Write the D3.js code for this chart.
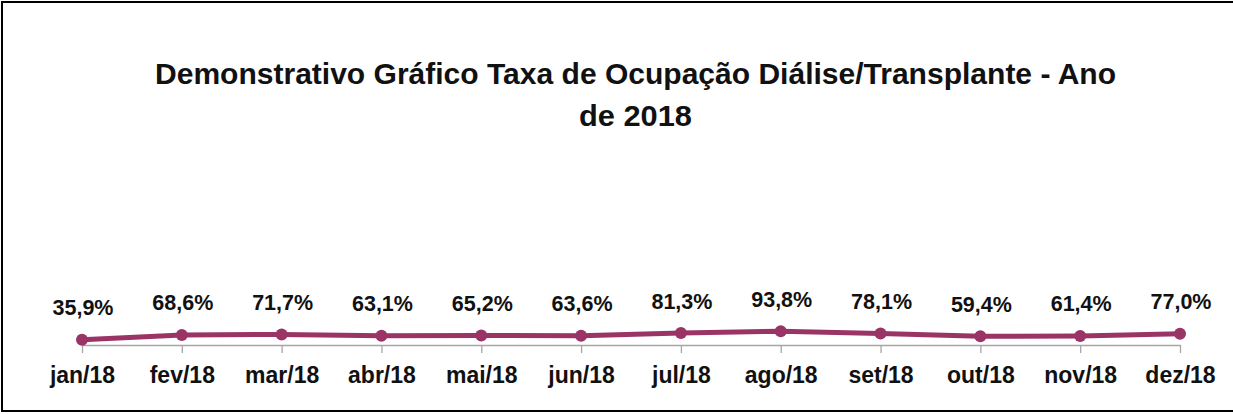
<!DOCTYPE html>
<html>
<head>
<meta charset="utf-8">
<script src="https://cdn.jsdelivr.net/npm/d3@7"></script>
<style>
  html, body { margin: 0; padding: 0; background: #fff; }
  svg { display: block; }
  text { font-family: "Liberation Sans", Arial, sans-serif; font-weight: bold; fill: #111; }
</style>
</head>
<body>
<svg id="chart" width="1233" height="414"></svg>
<script>
// Monthly occupancy rate (%), dialysis / transplant, 2018
const months = ["jan/18", "fev/18", "mar/18", "abr/18", "mai/18", "jun/18",
                "jul/18", "ago/18", "set/18", "out/18", "nov/18", "dez/18"];
const rates = [35.9, 68.6, 71.7, 63.1, 65.2, 63.6, 81.3, 93.8, 78.1, 59.4, 61.4, 77.0];
const titleLines = ["Demonstrativo Gráfico Taxa de Ocupação Diálise/Transplante - Ano", "de 2018"];

const W = 1233, H = 414;
const svg = d3.select("#chart");
const lineColor = "#9a3467";

// Outer frame
svg.append("rect")
  .attr("x", 2).attr("y", 2)
  .attr("width", W + 10).attr("height", 409)
  .attr("fill", "none").attr("stroke", "#000").attr("stroke-width", 2);

// Title, two centred lines
const titleY = [84, 126];
const titleWidth = [961, 113];
titleLines.forEach((t, i) => {
  svg.append("text")
    .attr("x", 635.5).attr("y", titleY[i])
    .attr("text-anchor", "middle")
    .style("font-size", "30px")
    .attr("textLength", titleWidth[i])
    .attr("lengthAdjust", "spacingAndGlyphs")
    .text(t);
});

// Scales
const x = d3.scalePoint().domain(months).range([82, 1180]);
const y = d3.scaleLinear().domain([0, 100]).range([345, 330.3]);

// Category axis
const axis = svg.append("g")
  .attr("transform", `translate(0,${y(0)})`)
  .call(d3.axisBottom(x).tickSize(8).tickPadding(14).tickSizeOuter(0));
axis.select(".domain").attr("stroke", "#a6a6a6").attr("stroke-width", 1.3);
axis.selectAll(".tick line").attr("stroke", "#a6a6a6").attr("stroke-width", 1.3);
axis.selectAll(".tick text")
  .attr("fill", "#111")
  .style("font-family", "'Liberation Sans', Arial, sans-serif")
  .style("font-weight", "bold")
  .style("font-size", "23px")
  .attr("dy", "0.71em");

// Series line
const line = d3.line()
  .x((d, i) => x(months[i]))
  .y(d => y(d));

svg.append("path")
  .datum(rates)
  .attr("d", line)
  .attr("fill", "none")
  .attr("stroke", lineColor)
  .attr("stroke-width", 5)
  .attr("stroke-linejoin", "round");

// Markers
svg.selectAll("circle.pt")
  .data(rates)
  .join("circle")
  .attr("class", "pt")
  .attr("cx", (d, i) => x(months[i]))
  .attr("cy", d => y(d))
  .attr("r", 6)
  .attr("fill", lineColor);

// Data labels
const fmt = v => v.toFixed(1).replace(".", ",") + "%";
svg.selectAll("text.val")
  .data(rates)
  .join("text")
  .attr("class", "val")
  .attr("x", (d, i) => x(months[i]) + 1)
  .attr("y", d => y(d) - 24.5)
  .attr("text-anchor", "middle")
  .style("font-size", "21.5px")
  .text(fmt);
</script>
</body>
</html>
